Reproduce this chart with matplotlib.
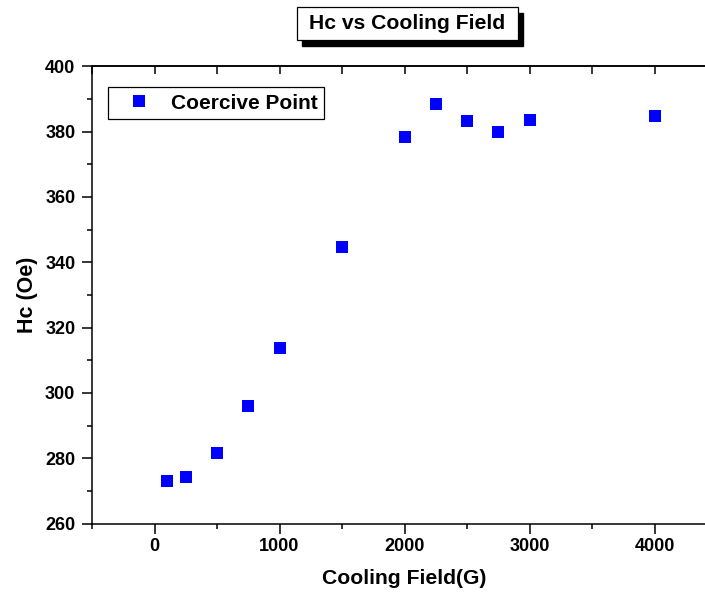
import matplotlib
matplotlib.use("Agg")
import matplotlib.pyplot as plt
from matplotlib.patches import Rectangle
from matplotlib.ticker import MultipleLocator

cooling_field = [100, 250, 500, 750, 1000, 1500, 2000, 2250, 2500, 2750, 3000, 4000]
hc = [273.1, 274.3, 281.6, 295.9, 313.7, 344.7, 378.3, 388.5, 383.2, 379.8, 383.6, 384.7]
series_label = "Coercive Point"
title = "Hc vs Cooling Field"
xlabel = "Cooling Field(G)"
ylabel = "Hc (Oe)"

plt.rcParams['font.family'] = ['Liberation Sans', 'DejaVu Sans']

W, H = 705, 597
fig = plt.figure(figsize=(W / 100, H / 100), dpi=100)
L, R, T, B = 92, 717, 66.3, 523.6
ax = fig.add_axes([L / W, 1 - B / H, (R - L) / W, (B - T) / H])

ax.plot(cooling_field, hc, linestyle='none', marker='s', markersize=8,
        color='#0000ff', markeredgewidth=0, label=series_label)

ax.set_xlim(-500, 4500)
ax.set_ylim(260, 400)
ax.xaxis.set_major_locator(MultipleLocator(1000))
ax.xaxis.set_minor_locator(MultipleLocator(500))
ax.yaxis.set_major_locator(MultipleLocator(20))
ax.yaxis.set_minor_locator(MultipleLocator(10))

for s in ax.spines.values():
    s.set_linewidth(1.1)
ax.spines['right'].set_visible(False)

ax.tick_params(axis='both', which='major', direction='out', length=7, width=1.1,
               labelsize=13)
ax.tick_params(axis='x', which='major', pad=3.5)
ax.tick_params(axis='y', which='major', pad=5)
ax.tick_params(axis='both', which='minor', direction='out', length=3.5, width=1.1)
ax.tick_params(axis='x', which='both', top=False, labeltop=False)
for lbl in ax.get_xticklabels() + ax.get_yticklabels():
    lbl.set_fontweight('bold')

# top ticks inward
sec = ax.secondary_xaxis('top')
sec.xaxis.set_major_locator(MultipleLocator(500))
sec.tick_params(direction='in', length=6, width=1.1, labeltop=False)
sec.spines['top'].set_linewidth(1.1)

ax.set_xlabel(xlabel, fontsize=15.2, fontweight='bold', labelpad=10)
ax.set_ylabel(ylabel, fontsize=15.5, fontweight='bold', labelpad=5)

leg = ax.legend(loc='upper left', bbox_to_anchor=(0.0251, 0.954),
                frameon=True, fancybox=False, edgecolor='black', framealpha=1,
                borderpad=0.3, handletextpad=0.33, handlelength=2.4, borderaxespad=0,
                prop={'weight': 'bold', 'size': 15})
leg.get_frame().set_linewidth(0.9)

# title box with shadow
bx0, bx1, by0, by1 = 296.7, 518, 7, 40
fig.patches.append(Rectangle(((bx0 + 5) / W, 1 - (by1 + 6) / H), (bx1 - bx0) / W, (by1 - by0) / H,
                             transform=fig.transFigure, facecolor='black', edgecolor='black', zorder=1))
fig.patches.append(Rectangle((bx0 / W, 1 - by1 / H), (bx1 - bx0) / W, (by1 - by0) / H,
                             transform=fig.transFigure, facecolor='white', edgecolor='black',
                             linewidth=0.9, zorder=2))
fig.text((bx0 + bx1) / 2 / W, 1 - (by0 + by1) / 2 / H, title, ha='center', va='center',
         fontsize=15.2, fontweight='bold', zorder=3)

fig.savefig('out.png', dpi=100)
